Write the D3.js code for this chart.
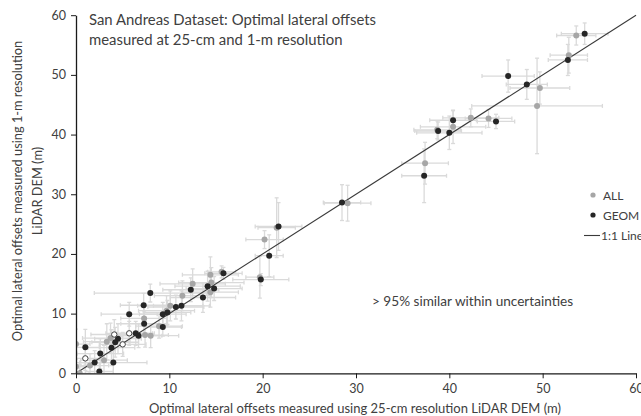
<!DOCTYPE html>
<html><head><meta charset="utf-8">
<script src="https://cdn.jsdelivr.net/npm/d3@7"></script>
<style>body{margin:0;background:#fff}svg{display:block}text{font-family:Lato,"Open Sans",sans-serif}</style>
</head><body>
<svg id="c" width="641" height="416"></svg>
<script>
// [x (25-cm), y (1-m), x uncertainty, y uncertainty]
const allPoints = [
 [53.6,56.6,2.1,1.6],[52.8,53.3,2.0,3.0],[49.7,47.8,3.2,2.7],[49.4,44.8,7.0,8.0],
 [42.3,42.8,3.0,1.5],[44.2,42.7,2.5,1.5],[40.4,41.3,3.5,2.8],[38.7,40.8,2.5,1.5],
 [37.4,35.2,2.5,3.5],[29.1,28.5,2.5,3.0],[21.5,24.4,2.0,5.0],[20.2,22.4,2.0,1.5],
 [19.7,16.1,1.5,3.5],[15.6,17.0,1.5,1.0],[14.4,16.5,3.0,3.0],[14.5,15.2,3.5,2.5],
 [14.4,13.6,3.0,2.5],[12.5,15.0,3.5,2.5],[11.4,13.0,3.0,2.5],[10.1,11.3,3.5,2.5],
 [9.7,10.5,3.0,2.5],[7.3,9.2,2.5,2.5],[8.9,7.9,2.5,2.0],[8.0,6.3,3.0,2.0],
 [7.4,6.4,2.5,2.0],[3.3,5.3,2.5,3.0],[3.7,5.9,3.0,2.5],[3.0,2.2,2.5,2.5],
 [1.5,1.3,2.0,2.0],[0.0,4.9,1.5,2.5],[0.0,1.1,1.5,2.0],[0.4,0.0,1.0,1.5]
];
const geomPoints = [
 [54.5,56.9,2.5,1.8],[52.7,52.5,2.1,2.6],[46.3,49.8,2.8,2.7],[48.3,48.4,2.2,2.5],
 [40.4,42.4,2.5,1.6],[45.0,42.2,2.0,1.2],[38.8,40.6,2.5,1.5],[40.0,40.3,3.5,2.8],
 [37.3,33.1,2.4,4.5],[28.5,28.6,2.0,3.0],[21.7,24.6,2.5,4.0],[20.7,19.7,1.5,3.5],
 [19.8,15.7,3.0,1.0],[15.8,16.75,2.0,1.0],[14.1,14.6,3.5,2.5],[14.8,14.2,3.0,2.0],
 [13.6,12.7,3.5,2.5],[12.3,14.0,3.0,2.0],[11.3,11.3,3.0,2.5],[10.7,11.1,3.0,2.0],
 [9.8,10.2,2.5,2.0],[9.3,9.9,2.5,2.0],[9.3,7.75,2.0,1.5],[7.96,13.45,6.0,1.5],
 [7.25,11.4,2.5,2.0],[7.3,8.3,2.5,2.0],[5.7,9.9,3.0,2.0],[6.4,6.7,2.0,2.0],
 [6.7,6.3,2.5,2.0],[4.5,5.8,2.5,2.5],[4.2,5.2,2.5,2.5],[3.8,4.3,2.5,3.0],
 [4.0,1.8,3.6,2.0],[2.6,3.3,2.5,2.5],[2.0,1.8,2.0,2.0],[2.5,0.3,1.5,1.5],
 [1.0,4.35,1.5,3.0]
];
const openPoints = [
 [1.0,2.5,1.5,2.0],[4.1,6.5,2.5,2.5],[5.0,4.85,2.5,2.0],[5.7,6.7,2.5,2.0]
];
const xTicks = [0,10,20,30,40,50,60];
const yTicks = [0,10,20,30,40,50,60];
const titleLines = ["San Andreas Dataset: Optimal lateral offsets","measured at 25-cm and 1-m resolution"];
const xTitle = "Optimal lateral offsets measured using 25-cm resolution LiDAR DEM (m)";
const yTitleLines = ["Optimal lateral offsets measured using 1-m resolution","LiDAR DEM (m)"];
const note = "> 95% similar within uncertainties";
const legendItems = ["ALL","GEOM","1:1 Line"];

const svg = d3.select("#c");
const x = d3.scaleLinear().domain([0,60]).range([76,636]);
const y = d3.scaleLinear().domain([0,60]).range([373.3,15.2]);

svg.append("defs").append("clipPath").attr("id","clip")
  .append("rect").attr("x",76).attr("y",0).attr("width",600).attr("height",373.3);

const eb = svg.append("g").attr("clip-path","url(#clip)")
  .attr("stroke","#dadada").attr("stroke-width",1.3).attr("fill","none");
const cap = 2;
[...allPoints,...geomPoints,...openPoints].forEach(d=>{
  const [vx,vy,ex,ey]=d;
  const x0=x(vx-ex), x1=x(vx+ex), y0=y(vy-ey), y1=y(vy+ey), cx=x(vx), cy=y(vy);
  eb.append("line").attr("x1",x0).attr("x2",x1).attr("y1",cy).attr("y2",cy);
  eb.append("line").attr("x1",x0).attr("x2",x0).attr("y1",cy-cap).attr("y2",cy+cap);
  eb.append("line").attr("x1",x1).attr("x2",x1).attr("y1",cy-cap).attr("y2",cy+cap);
  eb.append("line").attr("x1",cx).attr("x2",cx).attr("y1",y0).attr("y2",y1);
  eb.append("line").attr("x1",cx-cap).attr("x2",cx+cap).attr("y1",y0).attr("y2",y0);
  eb.append("line").attr("x1",cx-cap).attr("x2",cx+cap).attr("y1",y1).attr("y2",y1);
});

// 1:1 line
svg.append("line").attr("x1",x(0)).attr("y1",y(0)).attr("x2",x(60)).attr("y2",y(60))
  .attr("stroke","#3a3a3a").attr("stroke-width",1.1);

const pts = svg.append("g").attr("clip-path","url(#clip)");
pts.selectAll(".a").data(allPoints).join("circle").attr("cx",d=>x(d[0])).attr("cy",d=>y(d[1]))
  .attr("r",3).attr("fill","#a6a6a6");
pts.selectAll(".g").data(geomPoints).join("circle").attr("cx",d=>x(d[0])).attr("cy",d=>y(d[1]))
  .attr("r",3).attr("fill","#262626");
pts.selectAll(".o").data(openPoints).join("circle").attr("cx",d=>x(d[0])).attr("cy",d=>y(d[1]))
  .attr("r",2.7).attr("fill","#fff").attr("stroke","#404040").attr("stroke-width",1);

// axes
const xa = svg.append("g").attr("transform","translate(0,373.3)")
  .call(d3.axisBottom(x).tickValues(xTicks).tickSize(5).tickPadding(6).tickSizeOuter(0));
const ya = svg.append("g").attr("transform","translate(76,0)")
  .call(d3.axisLeft(y).tickValues(yTicks).tickSize(5).tickSizeOuter(0));
[xa,ya].forEach(a=>{
  a.select(".domain").attr("stroke","#1a1a1a").attr("stroke-width",1.3);
  a.selectAll(".tick line").attr("stroke","#1a1a1a");
  a.selectAll(".tick text").attr("fill","#404040").style("font-size","12.5px").style("font-family","Lato,sans-serif");
});
ya.selectAll(".tick text").attr("x",-10);

// titles
svg.append("g").selectAll("text").data(titleLines).join("text")
  .attr("x",89).attr("y",(d,i)=>25+i*20).attr("fill","#404040")
  .style("font-size","14.9px").text(d=>d);
svg.append("text").attr("x",355).attr("y",413).attr("text-anchor","middle")
  .attr("fill","#404040").style("font-size","13px").text(xTitle);
svg.append("g").selectAll("text").data(yTitleLines).join("text")
  .attr("transform",(d,i)=>`translate(${22+i*20},191) rotate(-90)`)
  .attr("text-anchor","middle").attr("fill","#404040").style("font-size","12.8px").text(d=>d);
svg.append("text").attr("x",372).attr("y",306).attr("fill","#404040")
  .style("font-size","13.6px").text(note);

// legend
const lg = svg.append("g");
lg.append("circle").attr("cx",593).attr("cy",195).attr("r",2.6).attr("fill","#a6a6a6");
lg.append("circle").attr("cx",593).attr("cy",215).attr("r",2.6).attr("fill","#262626");
lg.append("line").attr("x1",584).attr("x2",600).attr("y1",235.5).attr("y2",235.5).attr("stroke","#3a3a3a").attr("stroke-width",1.1);
lg.selectAll("text").data(legendItems).join("text")
  .attr("x",(d,i)=>i<2?603:601).attr("y",(d,i)=>199.5+i*20).attr("fill","#404040")
  .style("font-size","12px").text(d=>d);
</script>
</body></html>
